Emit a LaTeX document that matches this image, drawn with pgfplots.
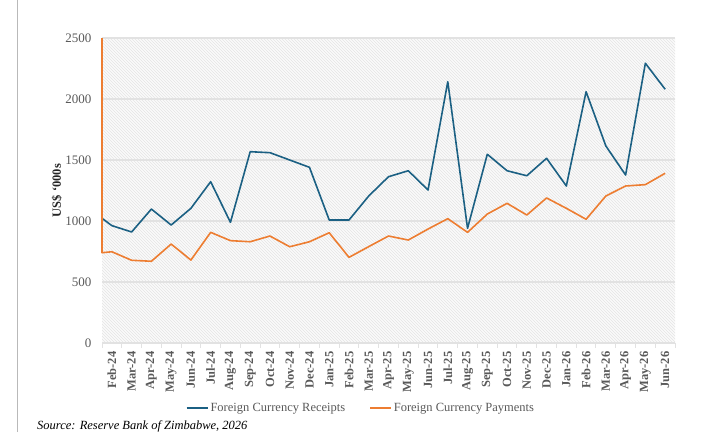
\documentclass[border=0pt]{standalone}
\usepackage{fontspec}
\setmainfont{Liberation Serif}
\usepackage{graphicx}
\usepackage{pgfplots}
\pgfplotsset{compat=1.18}
\usetikzlibrary{patterns}
\definecolor{rblue}{HTML}{1B6083}
\definecolor{rorange}{HTML}{ED7D31}
\definecolor{tgray}{HTML}{595959}
\definecolor{ggray}{HTML}{E2E2E2}
\begin{document}
\begin{tikzpicture}[x=1pt,y=1pt]
\useasboundingbox (0,0) rectangle (711,432);
\clip (0,0) rectangle (711,432);
\draw[gray!55, line width=1pt] (17,0) -- (17,432);
\node[anchor=base west, font=\fontsize{12.5}{14}\selectfont\itshape, text=black, inner sep=0pt] at (37,3) {Source: Reserve Bank of Zimbabwe, 2026};
\begin{axis}[
  at={(102pt,89pt)}, anchor=south west,
  scale only axis, width=573pt, height=305pt,
  xmin=0.5, xmax=29.5, ymin=0, ymax=2500,
  clip=false,
  axis x line=bottom, axis y line=left,
  x axis line style={ggray, line width=1pt, -},
  y axis line style={draw=none},
  axis background/.style={preaction={fill=gray!4}, pattern=north west lines, pattern color=gray!20},
  ytick={0,500,...,2500},
  ymajorgrids, major grid style={ggray, line width=1.3pt},
  xtick={1,...,29},
  xticklabels={Feb-24,Mar-24,Apr-24,May-24,Jun-24,Jul-24,Aug-24,Sep-24,Oct-24,Nov-24,Dec-24,Jan-25,Feb-25,Mar-25,Apr-25,May-25,Jun-25,Jul-25,Aug-25,Sep-25,Oct-25,Nov-25,Dec-25,Jan-26,Feb-26,Mar-26,Apr-26,May-26,Jun-26},
  minor xtick={0.5,1.5,...,29.5},
  tick align=outside, major tick length=0pt, minor tick length=5pt,
  minor tick style={ggray, line width=1pt},
  /pgf/number format/assume math mode=true,
  /pgf/number format/1000 sep={},
  tick label style={font=\fontsize{13}{15}\selectfont, text=tgray},
  xticklabel style={rotate=90, anchor=east, font=\fontsize{12.5}{14}\selectfont\bfseries},
  xticklabel shift=5pt,
  yticklabel shift=7pt,
  ylabel={US\$ ‘000s},
  ylabel style={font=\fontsize{12.5}{14}\selectfont\bfseries, text=black!85, at={(axis description cs:-0.079,0.5)}, anchor=center},
  legend columns=2,
  legend style={at={(0.452,-0.213)}, anchor=center, draw=none, fill=none, font=\fontsize{12.5}{14}\selectfont, text=tgray, /tikz/every even column/.append style={column sep=22pt}},
  legend image code/.code={\draw[#1] (0pt,0pt) -- (21pt,0pt);},
]
\addplot[rblue, line width=1.6pt, line join=round] coordinates {
(0.5,1022) (1,962) (2,910) (3,1098) (4,967) (5,1104) (6,1322) (7,989) (8,1568) (9,1560) (10,1500) (11,1440) (12,1008) (13,1008) (14,1205) (15,1363) (16,1412) (17,1254) (18,2142) (19,940) (20,1547) (21,1412) (22,1371) (23,1514) (24,1287) (25,2060) (26,1615) (27,1377) (28,2293) (29,2080)};
\addlegendentry{Foreign Currency Receipts}
\addplot[rorange, line width=1.6pt, line join=round] coordinates {
(0.5,2500) (0.5,740) (1,748) (2,678) (3,670) (4,811) (5,680) (6,907) (7,839) (8,830) (9,877) (10,789) (11,830) (12,904) (13,702) (14,790) (15,877) (16,844) (17,934) (18,1019) (19,907) (20,1057) (21,1145) (22,1049) (23,1189) (24,1104) (25,1014) (26,1205) (27,1287) (28,1298) (29,1391)};
\addlegendentry{Foreign Currency Payments}
\end{axis}
\end{tikzpicture}
\end{document}
